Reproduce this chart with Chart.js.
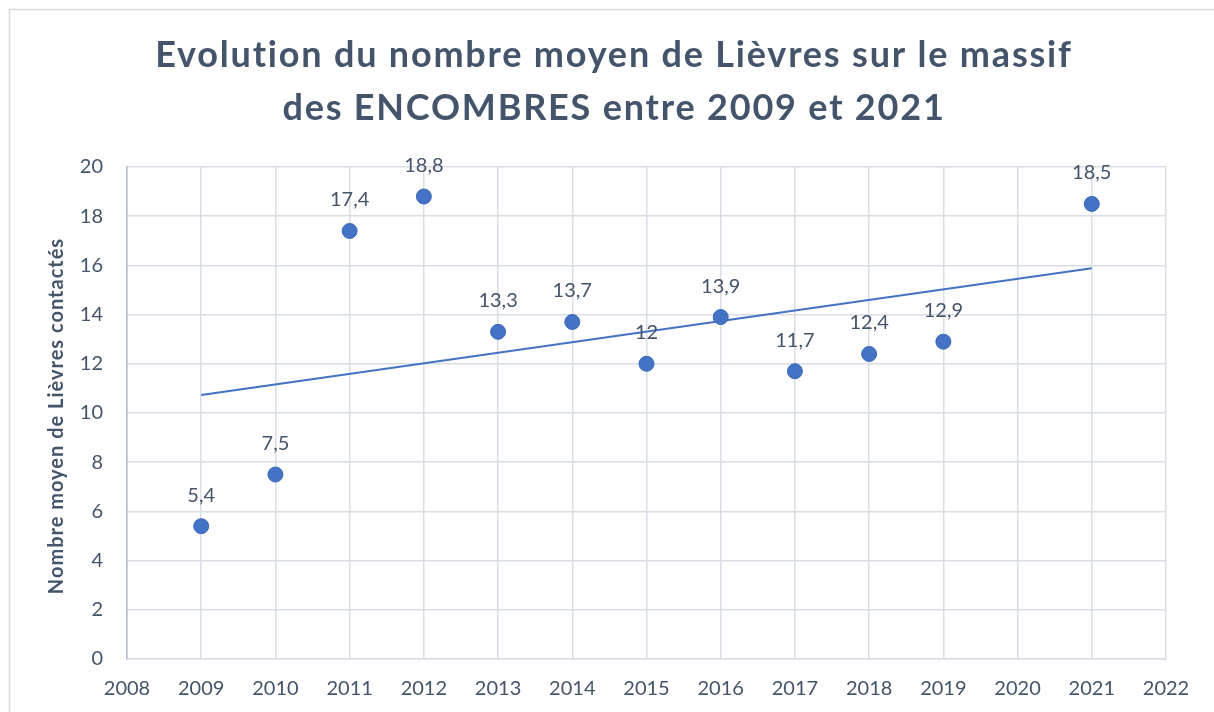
<!DOCTYPE html>
<html>
<head>
<meta charset="utf-8">
<script src="https://cdn.jsdelivr.net/npm/chart.js@4"></script>
<style>
  html, body { margin: 0; padding: 0; background: #fff; }
  #wrap { width: 1214px; height: 712px; }
</style>
</head>
<body>
<div id="wrap"><canvas id="chart" width="1214" height="712"></canvas></div>
<script>
// Données
const years = [2009, 2010, 2011, 2012, 2013, 2014, 2015, 2016, 2017, 2018, 2019, 2021];
const hares = [5.4, 7.5, 17.4, 18.8, 13.3, 13.7, 12, 13.9, 11.7, 12.4, 12.9, 18.5];
// Courbe de tendance (extrémités lues)
const trendYears = [2009, 2021];
const trendValues = [10.73, 15.88];

const titleLines = ['Evolution du nombre moyen de Lièvres sur le massif', 'des ENCOMBRES entre 2009 et 2021'];
const yTitle = 'Nombre moyen de Lièvres contactés';

const slate = '#44546a';
const blue = '#4472c4';
const gridColor = '#d9dde6';

const fmt = v => String(v).replace('.', ',');

// Etiquettes de données au-dessus des points
const pointLabels = {
    id: 'pointLabels',
    afterDatasetsDraw(chart) {
        const ctx = chart.ctx;
        const meta = chart.getDatasetMeta(1);
        ctx.save();
        ctx.font = '20px Lato';
        ctx.fillStyle = slate;
        ctx.textAlign = 'center';
        ctx.textBaseline = 'middle';
        meta.data.forEach((pt, i) => {
            ctx.fillText(fmt(hares[i]), pt.x, pt.y - 31);
        });
        ctx.restore();
    }
};

// Cadre, titre et titre de l'axe Y
const decor = {
    id: 'decor',
    beforeDraw(chart) {
        const ctx = chart.ctx;
        ctx.save();
        ctx.strokeStyle = '#d9d9d9';
        ctx.lineWidth = 1.5;
        ctx.strokeRect(9.5, 9.5, 1400, 900);
        ctx.restore();
    },
    afterDraw(chart) {
        const ctx = chart.ctx;
        ctx.save();
        ctx.fillStyle = slate;
        ctx.textAlign = 'center';
        ctx.textBaseline = 'alphabetic';
        ctx.font = 'bold 36px Lato';
        ctx.letterSpacing = '1.8px';
        ctx.fillText(titleLines[0], 614, 67);
        ctx.fillText(titleLines[1], 614, 120);

        const a = chart.chartArea;
        ctx.translate(57, (a.top + a.bottom) / 2 + 3);
        ctx.rotate(-Math.PI / 2);
        ctx.textBaseline = 'middle';
        ctx.font = 'bold 20px Lato';
        ctx.letterSpacing = '1px';
        ctx.fillText(yTitle, 0, 0);
        ctx.restore();
    }
};

const ctx = document.getElementById('chart').getContext('2d');
new Chart(ctx, {
    type: 'scatter',
    data: {
        datasets: [
            {
                type: 'line',
                label: 'Tendance',
                data: trendYears.map((x, i) => ({ x: x, y: trendValues[i] })),
                borderColor: blue,
                borderWidth: 2,
                pointRadius: 0,
                fill: false,
                order: 2
            },
            {
                label: 'Lièvres',
                data: years.map((x, i) => ({ x: x, y: hares[i] })),
                backgroundColor: blue,
                borderColor: '#3a66b5',
                borderWidth: 1,
                pointRadius: 7.5,
                order: 1
            }
        ]
    },
    plugins: [decor, pointLabels],
    options: {
        responsive: false,
        animation: false,
        layout: { padding: { top: 167, right: 48, bottom: 0, left: 0 } },
        plugins: {
            legend: { display: false },
            tooltip: { enabled: false },
            title: { display: false }
        },
        scales: {
            x: {
                type: 'linear',
                min: 2008,
                max: 2022,
                ticks: {
                    stepSize: 1,
                    color: slate,
                    font: { family: 'Lato', size: 20 },
                    padding: 18,
                    callback: v => String(v)
                },
                grid: { color: gridColor, lineWidth: 1.5, drawTicks: false },
                border: { color: gridColor, width: 1.5 },
                afterFit: s => { s.height = 53; }
            },
            y: {
                min: 0,
                max: 20,
                ticks: {
                    stepSize: 2,
                    color: slate,
                    font: { family: 'Lato', size: 20 },
                    padding: 24,
                    callback: v => String(v)
                },
                grid: { color: gridColor, lineWidth: 1.5, drawTicks: false },
                border: { color: '#b4bdcd', width: 1.5 },
                afterFit: s => { s.width = 127; }
            }
        }
    }
});
</script>
</body>
</html>
